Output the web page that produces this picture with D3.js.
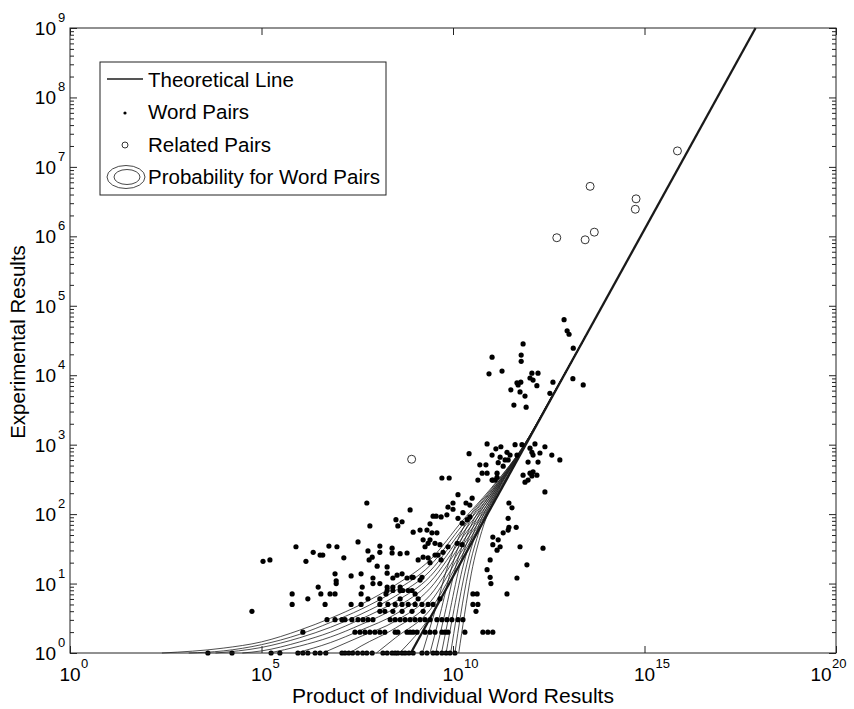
<!DOCTYPE html>
<html>
<head>
<meta charset="utf-8">
<script src="https://cdn.jsdelivr.net/npm/d3@7/dist/d3.min.js"></script>
<style>
body { margin: 0; background: #fff; }
svg { font-family: "Liberation Sans", Arial, Helvetica, sans-serif; }
</style>
</head>
<body>
<svg width="854" height="709"></svg>
<script>
// all values below are log10 of the plotted quantity
var xTickExp = [0, 5, 10, 15, 20];
var yTickExp = [0, 1, 2, 3, 4, 5, 6, 7, 8, 9];

// theoretical line: log10(hits) = log10(product) - 8.9
var theoryLine = [[8.9, 0], [17.9, 9]];

var relatedPairs = [[8.92, 2.79], [12.71, 5.98], [13.58, 6.72], [13.45, 5.95],
	[13.69, 6.06], [14.78, 6.54], [14.76, 6.39], [15.86, 7.23]];

// [log10 product, log10 hits]
var wordPairs = [
	// hits = 1
	[3.60, 0], [4.23, 0], [5.25, 0], [5.48, 0], [5.95, 0], [6.08, 0], [6.21, 0], [6.40, 0], [6.53, 0], [6.68, 0],
	[7.10, 0], [7.18, 0], [7.28, 0], [7.38, 0], [7.51, 0], [7.64, 0], [7.75, 0], [7.89, 0], [8.17, 0], [8.28, 0],
	[8.41, 0], [8.49, 0], [8.56, 0], [8.67, 0], [8.75, 0], [8.85, 0], [8.96, 0], [9.19, 0], [9.32, 0], [9.48, 0],
	[9.58, 0], [9.71, 0], [9.82, 0], [9.92, 0], [10.05, 0],
	// hits = 2
	[6.08, 0.30], [7.44, 0.30], [7.57, 0.30], [7.70, 0.30], [7.83, 0.30], [7.96, 0.30], [8.09, 0.30], [8.22, 0.30],
	[8.49, 0.30], [8.56, 0.30], [8.80, 0.30], [8.88, 0.30], [8.96, 0.30], [9.06, 0.30], [9.27, 0.30], [9.40, 0.30],
	[9.53, 0.30], [9.71, 0.30], [9.79, 0.30], [9.87, 0.30], [10.31, 0.30], [10.78, 0.30], [10.91, 0.30], [11.04, 0.30],
	// hits = 3
	[6.71, 0.48], [6.92, 0.48], [7.10, 0.48], [7.18, 0.48], [7.36, 0.48], [7.52, 0.48], [7.65, 0.48], [7.78, 0.48],
	[7.91, 0.48], [8.36, 0.48], [8.49, 0.48], [8.62, 0.48], [8.75, 0.48], [8.88, 0.48], [9.01, 0.48], [9.14, 0.48],
	[9.27, 0.48], [9.40, 0.48], [9.58, 0.48], [9.71, 0.48], [9.84, 0.48], [9.97, 0.48], [10.13, 0.48], [10.26, 0.48],
	// hits = 4
	[4.75, 0.60], [8.09, 0.60], [8.22, 0.60], [8.43, 0.60], [8.67, 0.60], [8.93, 0.60], [9.22, 0.60], [10.60, 0.60],
	// hits = 5
	[5.80, 0.70], [6.66, 0.70], [7.34, 0.70], [7.60, 0.70], [8.09, 0.70], [8.30, 0.70], [8.49, 0.70], [8.67, 0.70],
	[8.83, 0.70], [9.01, 0.70], [9.19, 0.70], [9.35, 0.70], [9.48, 0.70], [10.52, 0.70], [10.65, 0.70],
	// hits = 6 .. 10
	[6.21, 0.78], [7.78, 0.78], [8.09, 0.78], [8.62, 0.78], [9.09, 0.78], [9.66, 0.78],
	[5.80, 0.85], [6.55, 0.85], [6.79, 0.85], [6.92, 0.85], [7.60, 0.85], [8.25, 0.85], [9.01, 0.85], [10.52, 0.85],
	[10.63, 0.85], [11.41, 0.85],
	[8.28, 0.90], [8.43, 0.90], [8.62, 0.90], [8.69, 0.90], [8.83, 0.90], [8.93, 0.90],
	[6.48, 0.95], [7.63, 0.95], [8.28, 0.95], [8.43, 0.95], [8.62, 0.95],
	[6.95, 1], [7.91, 1], [8.09, 1], [10.99, 1],
	// more than 10 hits
	[6.92, 1.14], [7.34, 1.11], [7.60, 1.14], [7.91, 1.08], [8.28, 1.15], [8.54, 1.12], [8.80, 1.08], [8.96, 1.09],
	[9.14, 1.05], [8.43, 1.08], [8.67, 1.14], [8.93, 1.09], [9.19, 1.09], [11.67, 1.08], [11.93, 1.27], [10.97, 1.34],
	[10.89, 1.20], [10.97, 1.09], [11.04, 1.56], [11.15, 1.48], [10.11, 1.58], [10.24, 1.56], [9.61, 1.41], [9.74, 1.45],
	[9.87, 1.53], [9.09, 1.34], [9.22, 1.38], [9.35, 1.37], [9.40, 1.30], [9.53, 1.41], [9.69, 1.34], [7.78, 1.47],
	[7.89, 1.38], [7.81, 1.34], [8.09, 1.45], [8.41, 1.44], [8.62, 1.43], [8.80, 1.44], [8.02, 1.25], [8.28, 1.24],
	[6.76, 1.54], [6.97, 1.53], [6.35, 1.45], [6.53, 1.41], [6.60, 1.41], [5.90, 1.53], [6.16, 1.32], [6.95, 1.04],
	[5.04, 1.32], [5.22, 1.34], [7.15, 1.37], [7.52, 1.60], [8.09, 1.54], [8.41, 1.51], [9.22, 1.63], [9.35, 1.58],
	[9.27, 1.53], [9.40, 1.63], [9.53, 1.58], [9.66, 1.56], [9.14, 1.77], [9.32, 1.77], [9.45, 1.73], [9.58, 1.73],
	[8.96, 1.74], [7.75, 2.16], [7.83, 1.83], [8.88, 2.06], [8.51, 1.92], [8.67, 1.89], [8.56, 1.83], [9.48, 1.97],
	[9.69, 1.96], [9.87, 2.10], [9.40, 1.86], [9.56, 1.97], [9.84, 1.99], [9.71, 2.52], [9.90, 2.52], [10.13, 2.28],
	[10.00, 2.16], [10.76, 2.59], [10.89, 2.59], [11.04, 2.49], [11.15, 2.53], [10.24, 1.87], [10.37, 1.92], [10.44, 1.96],
	[10.13, 1.94], [10.26, 2.02], [10.34, 2.16], [10.44, 2.13], [10.50, 2.23], [10.00, 2.07], [11.46, 2.16], [11.54, 2.09],
	[11.44, 1.94], [11.46, 1.81], [11.65, 1.81], [11.04, 1.67], [11.18, 1.63], [11.31, 1.73], [11.44, 1.77], [12.35, 1.51],
	[11.75, 1.53], [11.23, 1.53], [12.40, 2.32], [10.65, 2.49], [11.15, 2.59], [11.02, 2.49], [11.10, 2.49], [11.83, 2.56],
	[12.01, 2.59], [12.09, 2.61], [12.06, 2.55], [12.19, 2.56], [11.88, 2.46], [11.96, 2.49], [10.70, 2.71], [10.86, 2.71],
	[11.18, 2.74], [11.31, 2.69], [11.44, 2.78], [11.96, 2.75], [12.22, 2.75], [10.42, 2.87], [11.02, 2.85], [11.23, 2.82],
	[11.36, 2.78], [11.49, 2.85], [11.67, 2.85], [12.06, 2.89], [12.09, 2.85], [12.27, 2.88], [12.58, 2.85], [12.79, 2.78],
	[10.89, 3.01], [11.12, 2.94], [11.25, 2.97], [11.41, 2.89], [11.62, 3.00], [11.80, 3.00], [12.01, 2.95], [12.14, 3.01],
	[12.40, 2.97], [11.59, 3.57], [11.91, 3.54], [11.51, 3.79], [11.75, 3.76], [11.88, 3.70], [12.53, 3.74], [11.67, 3.89],
	[11.77, 3.90], [11.70, 3.86], [10.94, 4.02], [11.28, 4.06], [12.01, 3.96], [12.09, 3.93], [12.22, 4.03], [12.06, 4.03],
	[12.19, 3.85], [12.61, 3.90], [13.13, 3.95], [13.40, 3.86], [11.02, 4.26], [11.78, 4.29], [11.78, 4.20], [11.83, 4.45],
	[13.14, 4.39], [12.90, 4.80], [12.98, 4.64], [13.03, 4.59]
];

// probability contours, starting left of the theoretical line
var probUpper = [
	[[2.4, 0], [4.0, 0.07], [5.0, 0.16], [6.0, 0.33], [6.8, 0.5], [7.6, 0.7], [8.5, 0.98], [9.4, 1.34], [10.27, 1.92], [10.96, 2.35], [11.8, 2.95], [12.6, 3.72], [13.5, 4.6]],
	[[3.1, 0], [4.0, 0.03], [5.0, 0.12], [6.0, 0.27], [6.8, 0.44], [7.6, 0.63], [8.5, 0.9], [9.4, 1.26], [10.27, 1.86], [10.96, 2.31], [11.8, 2.94], [12.6, 3.71], [13.5, 4.6]],
	[[3.8, 0], [5.0, 0.08], [6.0, 0.22], [6.8, 0.37], [7.6, 0.56], [8.5, 0.82], [9.4, 1.18], [10.27, 1.8], [10.96, 2.27], [11.8, 2.93], [12.6, 3.71], [13.5, 4.6]],
	[[4.5, 0], [5.0, 0.03], [6.0, 0.16], [6.8, 0.3], [7.6, 0.49], [8.5, 0.74], [9.4, 1.1], [10.27, 1.74], [10.96, 2.23], [11.8, 2.92], [12.6, 3.71], [13.5, 4.6]],
	[[5.2, 0], [6.0, 0.1], [6.8, 0.23], [7.6, 0.41], [8.5, 0.65], [9.4, 1.02], [10.27, 1.68], [10.96, 2.19], [11.8, 2.92], [12.6, 3.71], [13.5, 4.6]],
	[[5.9, 0], [6.8, 0.15], [7.6, 0.33], [8.5, 0.56], [9.4, 0.93], [10.27, 1.62], [10.96, 2.15], [11.8, 2.91], [12.6, 3.7], [13.5, 4.6]],
	[[6.6, 0], [7.6, 0.24], [8.5, 0.46], [9.4, 0.83], [10.27, 1.56], [10.96, 2.12], [11.8, 2.91], [12.6, 3.7], [13.5, 4.6]],
	[[7.3, 0], [7.6, 0.1], [8.5, 0.36], [9.4, 0.73], [10.27, 1.5], [10.96, 2.09], [11.8, 2.9], [12.6, 3.7], [13.5, 4.6]],
	[[8.0, 0], [8.5, 0.22], [9.4, 0.62], [10.27, 1.44], [10.96, 2.07], [11.8, 2.9], [12.6, 3.7], [13.5, 4.6]],
	[[8.6, 0], [9.4, 0.52], [10.27, 1.38], [10.96, 2.06], [11.8, 2.9], [12.6, 3.7], [13.5, 4.6]]
];

// probability contours, starting right of the theoretical line (steep)
var probLower = [
	[[9.2, 0], [9.5, 0.55], [9.88, 1.28], [10.38, 1.92], [10.96, 2.33], [11.8, 2.95], [12.6, 3.71], [13.5, 4.6]],
	[[9.4, 0], [9.66, 0.55], [9.98, 1.26], [10.44, 1.9], [10.98, 2.31], [11.8, 2.94], [12.6, 3.71], [13.5, 4.6]],
	[[9.55, 0], [9.78, 0.55], [10.07, 1.24], [10.5, 1.87], [11.0, 2.3], [11.8, 2.94], [12.6, 3.7], [13.5, 4.6]],
	[[9.7, 0], [9.9, 0.55], [10.16, 1.22], [10.55, 1.85], [11.02, 2.29], [11.8, 2.93], [12.6, 3.7], [13.5, 4.6]],
	[[9.82, 0], [10.0, 0.55], [10.24, 1.2], [10.6, 1.82], [11.04, 2.28], [11.8, 2.93], [12.6, 3.7], [13.5, 4.6]],
	[[9.94, 0], [10.1, 0.55], [10.32, 1.18], [10.65, 1.8], [11.06, 2.27], [11.8, 2.92], [12.6, 3.7], [13.5, 4.6]],
	[[10.05, 0], [10.2, 0.55], [10.4, 1.17], [10.7, 1.78], [11.08, 2.26], [11.8, 2.92], [12.6, 3.7], [13.5, 4.6]],
	[[10.15, 0], [10.3, 0.55], [10.48, 1.15], [10.75, 1.75], [11.1, 2.25], [11.8, 2.92], [12.6, 3.7], [13.5, 4.6]]
];

var legendItems = ["Theoretical Line", "Word Pairs", "Related Pairs", "Probability for Word Pairs"];

var margin = { left: 70, top: 28, right: 18, bottom: 56 };
var svg = d3.select("svg");
var width = 854 - margin.left - margin.right;
var height = 709 - margin.top - margin.bottom;
var g = svg.append("g").attr("transform", "translate(" + margin.left + "," + margin.top + ")");

function p10(e) { return Math.pow(10, e); }

var xScale = d3.scaleLog().domain([1, 1e20]).range([0, width]);
var yScale = d3.scaleLog().domain([1, 1e9]).range([height, 0]);

var yMinor = [];
yTickExp.slice(0, -1).forEach(function(e) {
	for (var k = 2; k < 10; k++) yMinor.push(k * p10(e));
});

// inside ticks on all four sides
function ticks(axis) {
	return function(sel) {
		sel.call(axis.tickFormat(""));
		sel.select(".domain").remove();
		sel.selectAll(".tick line").attr("stroke", "#222");
	};
}
var xT = xTickExp.map(p10), yT = yTickExp.map(p10);
g.append("g").attr("transform", "translate(0," + height + ")").call(ticks(d3.axisBottom(xScale).tickValues(xT).tickSize(-7)));
g.append("g").call(ticks(d3.axisTop(xScale).tickValues(xT).tickSize(-7)));
g.append("g").call(ticks(d3.axisLeft(yScale).tickValues(yT).tickSize(-7)));
g.append("g").call(ticks(d3.axisLeft(yScale).tickValues(yMinor).tickSize(-4)));
g.append("g").attr("transform", "translate(" + width + ",0)").call(ticks(d3.axisRight(yScale).tickValues(yT).tickSize(-7)));
g.append("g").attr("transform", "translate(" + width + ",0)").call(ticks(d3.axisRight(yScale).tickValues(yMinor).tickSize(-4)));

// contours
var contourLine = d3.line().curve(d3.curveMonotoneX)
	.x(function(d) { return xScale(p10(d[0])); })
	.y(function(d) { return yScale(p10(d[1])); });
g.append("g").selectAll("path").data(probUpper.concat(probLower)).enter().append("path")
	.attr("d", contourLine).attr("fill", "none").attr("stroke", "#222").attr("stroke-width", 0.8);

// theoretical line
g.append("path").datum(theoryLine).attr("d", contourLine.curve(d3.curveLinear))
	.attr("fill", "none").attr("stroke", "#1a1a1a").attr("stroke-width", 2.3);

// word pairs
g.append("g").selectAll("circle").data(wordPairs).enter().append("circle")
	.attr("cx", function(d) { return xScale(p10(d[0])); })
	.attr("cy", function(d) { return yScale(p10(d[1])); })
	.attr("r", 2.6).attr("fill", "#000");

// related pairs
g.append("g").selectAll("circle").data(relatedPairs).enter().append("circle")
	.attr("cx", function(d) { return xScale(p10(d[0])); })
	.attr("cy", function(d) { return yScale(p10(d[1])); })
	.attr("r", 4).attr("fill", "none").attr("stroke", "#333").attr("stroke-width", 1);

// frame
g.append("rect").attr("width", width).attr("height", height)
	.attr("fill", "none").attr("stroke", "#222").attr("stroke-width", 1);

// tick labels 10^n
xTickExp.forEach(function(e, i) {
	var x = xScale(p10(e)) - (i === xTickExp.length - 1 ? 15 : 0);
	g.append("text").attr("x", x).attr("y", height + 28).attr("text-anchor", "middle")
		.attr("font-size", 19).text("10");
	g.append("text").attr("x", x + 11).attr("y", height + 15).attr("font-size", 13).text(e);
});
yTickExp.forEach(function(e) {
	var y = yScale(p10(e));
	g.append("text").attr("x", -14).attr("y", y + 7).attr("text-anchor", "end")
		.attr("font-size", 19).text("10");
	g.append("text").attr("x", -12).attr("y", y - 6).attr("font-size", 13).text(e);
});

// axis titles
svg.append("text").attr("x", margin.left + width / 2).attr("y", 703).attr("text-anchor", "middle")
	.attr("font-size", 21).text("Product of Individual Word Results");
svg.append("text").attr("transform", "translate(25,342) rotate(-90)")
	.attr("text-anchor", "middle").attr("font-size", 20.5).text("Experimental Results");

// legend
var lg = svg.append("g").attr("transform", "translate(100,62)");
lg.append("rect").attr("width", 286).attr("height", 133)
	.attr("fill", "#fff").attr("stroke", "#222").attr("stroke-width", 1);
lg.selectAll("text").data(legendItems).enter().append("text")
	.attr("x", 48).attr("y", function(d, i) { return 25 + i * 32.3; })
	.attr("font-size", 20.5).text(function(d) { return d; });
lg.append("line").attr("x1", 7).attr("x2", 43).attr("y1", 17).attr("y2", 17)
	.attr("stroke", "#555").attr("stroke-width", 2.2);
lg.append("circle").attr("cx", 25).attr("cy", 51).attr("r", 1.6).attr("fill", "#000");
lg.append("circle").attr("cx", 25).attr("cy", 83).attr("r", 3).attr("fill", "none").attr("stroke", "#333");
lg.append("ellipse").attr("cx", 26).attr("cy", 115).attr("rx", 19).attr("ry", 11.5)
	.attr("fill", "none").attr("stroke", "#333").attr("stroke-width", 0.9);
lg.append("ellipse").attr("cx", 27).attr("cy", 115).attr("rx", 13).attr("ry", 7.5)
	.attr("fill", "none").attr("stroke", "#333").attr("stroke-width", 0.9);
</script>
</body>
</html>
